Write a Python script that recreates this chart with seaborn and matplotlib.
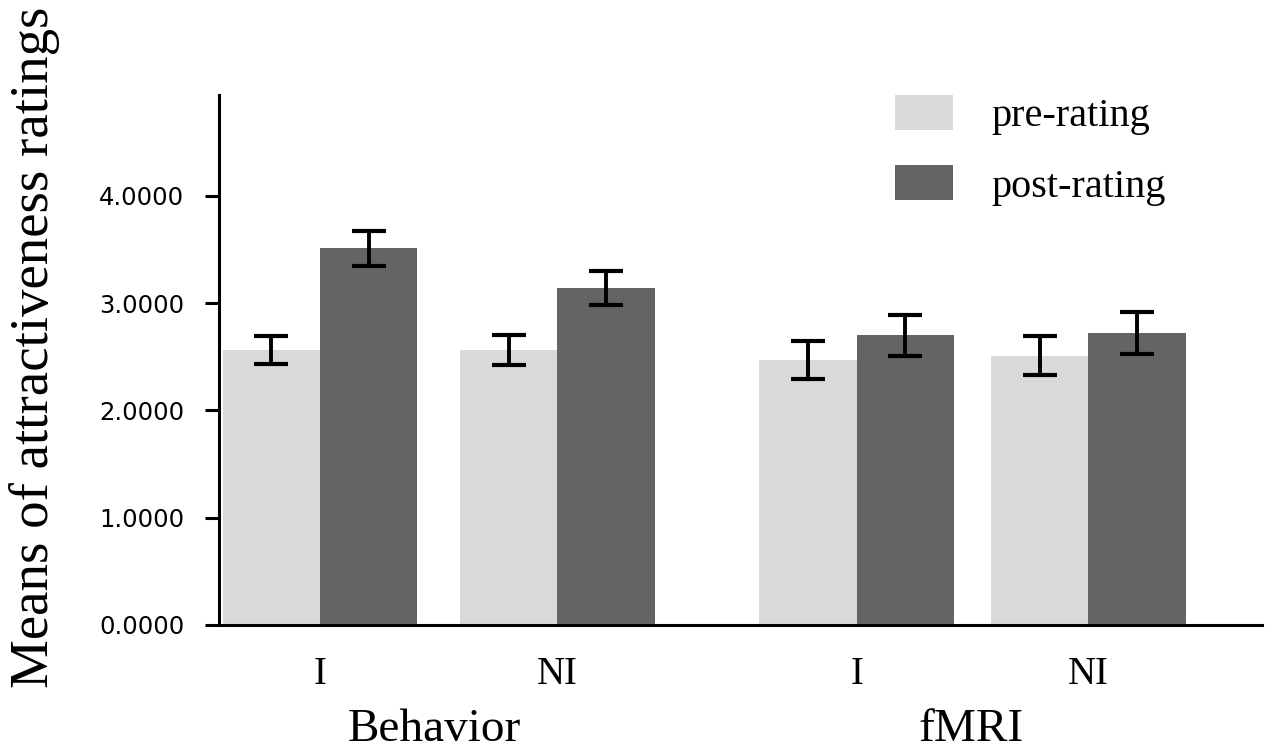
import numpy as np
import pandas as pd
import matplotlib
matplotlib.use("Agg")
import matplotlib.pyplot as plt
import matplotlib.transforms as mtransforms
import seaborn as sns

# ---- data ----
conditions = ["Behavior-I", "Behavior-NI", "fMRI-I", "fMRI-NI"]
cond_pos = [0.0, 1.0, 2.26, 3.235]
tick_labels = ["I", "NI", "I", "NI"]
groups = ["Behavior", "fMRI"]
group_pos = [0.48, 2.74]
series = ["pre-rating", "post-rating"]
pre_mean = [2.56, 2.56, 2.47, 2.51]
post_mean = [3.51, 3.14, 2.70, 2.72]
pre_err = [0.13, 0.14, 0.18, 0.18]
post_err = [0.16, 0.155, 0.19, 0.195]

sns.set_style("white")
plt.rcParams["font.family"] = ["Liberation Serif", "DejaVu Serif"]
plt.rcParams["text.color"] = "black"
plt.rcParams["xtick.color"] = "black"
plt.rcParams["ytick.color"] = "black"

rows = []
for i, c in enumerate(conditions):
    rows.append({"cond": c, "pos": cond_pos[i], "rating": series[0], "mean": pre_mean[i], "err": pre_err[i]})
    rows.append({"cond": c, "pos": cond_pos[i], "rating": series[1], "mean": post_mean[i], "err": post_err[i]})
df = pd.DataFrame(rows)

fig = plt.figure(figsize=(12.67, 7.55), dpi=100)
ax = fig.add_axes([219 / 1267, 1 - 625 / 755, (1262 - 219) / 1267, (625 - 95) / 755])

palette = {"pre-rating": "#d9d9d9", "post-rating": "#646464"}
min_diff = np.min(np.diff(sorted(cond_pos)))
sns.barplot(data=df, x="pos", y="mean", hue="rating", hue_order=series,
            native_scale=True, palette=palette, errorbar=None,
            width=0.82 / min_diff, saturation=1, ax=ax, linewidth=0)

# error bars at bar centres
for cont, s in zip(ax.containers, series):
    sub = df[df["rating"] == s].sort_values("pos")
    patches = sorted(cont.patches, key=lambda p: p.get_x())
    for p, (_, r) in zip(patches, sub.iterrows()):
        xc = p.get_x() + p.get_width() / 2
        ax.errorbar(xc, r["mean"], yerr=r["err"], fmt="none", ecolor="black",
                    elinewidth=2.8, capsize=12.5, capthick=3.0, zorder=5)

ax.set_xlim(-0.425, 3.966)
ax.set_ylim(0, 4.94)
ax.set_yticks([0, 1, 2, 3, 4])
ax.set_yticklabels([f"{v:.4f}" for v in [0, 1, 2, 3, 4]],
                   fontfamily="DejaVu Sans", fontsize=17.5, color="black")
ax.set_xticks(cond_pos)
ax.set_xticklabels(tick_labels, fontsize=28, color="black")
ax.tick_params(axis="x", length=0, pad=22)
ax.tick_params(axis="y", length=10, width=2.2, pad=15, direction="out", left=True)
ax.set_xlabel("")
ax.set_ylabel("")
for s in ["top", "right"]:
    ax.spines[s].set_visible(False)
for s in ["left", "bottom"]:
    ax.spines[s].set_linewidth(2.2)
    ax.spines[s].set_color("black")

trans = mtransforms.blended_transform_factory(ax.transData, fig.transFigure)
for g, gp in zip(groups, group_pos):
    ax.text(gp, 1 - 730 / 755, g, transform=trans, ha="center", va="center",
            fontsize=34, color="black")

fig.text(35 / 1267, 1 - 347 / 755, "Means of attractiveness ratings", rotation=90,
         ha="center", va="center", fontsize=39.5, color="black")

leg = ax.legend(loc="upper left", bbox_to_anchor=((895 - 219) / (1262 - 219), 1.0),
                frameon=False, fontsize=29, handlelength=1.45, handleheight=0.95,
                handletextpad=0.95, labelspacing=0.75, borderaxespad=0, borderpad=0)

fig.savefig("out.png", dpi=100)
